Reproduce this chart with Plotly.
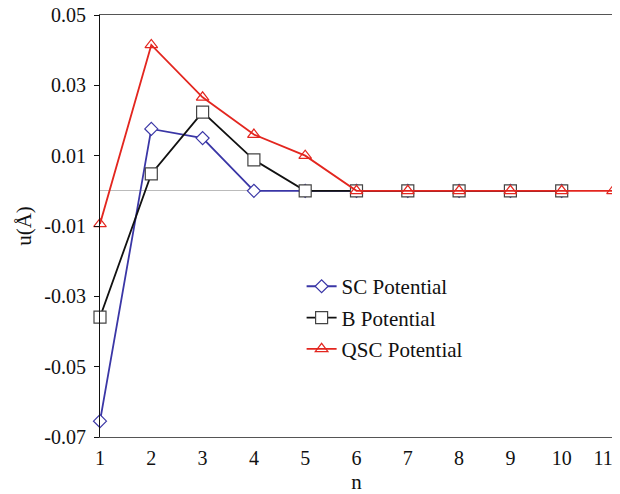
import plotly.graph_objects as go

n = [1, 2, 3, 4, 5, 6, 7, 8, 9, 10, 11]
n_labels = ["1", "2", "3", "4", "5", "6", "7", "8", "9", "10", "11\u2003"]
sc_n = n[:10]
sc_u = [-0.0655, 0.0176, 0.0150, 0.0, 0.0, 0.0, 0.0, 0.0, 0.0, 0.0]
b_n = n[:10]
b_u = [-0.0359, 0.0048, 0.0224, 0.0088, 0.0, 0.0, 0.0, 0.0, 0.0, 0.0]
qsc_n = n
qsc_u = [-0.0094, 0.0415, 0.0266, 0.0160, 0.0100, 0.0, 0.0, 0.0, 0.0, 0.0, 0.0]
y_ticks = [0.05, 0.03, 0.01, -0.01, -0.03, -0.05, -0.07]
y_labels = ["0.05", "0.03", "0.01", "-0.01", "-0.03", "-0.05", "-0.07"]

BLUE = "#3a36a6"
RED = "#e3261f"
BLACK = "#111111"
FONT = "Liberation Serif"

fig = go.Figure()
fig.add_trace(go.Scatter(x=sc_n, y=sc_u, name="SC Potential", mode="lines+markers",
                         line=dict(color=BLUE, width=1.8), legendgroup="a",
                         marker=dict(symbol="diamond", size=10, color="white",
                                     line=dict(color=BLUE, width=1.2)),
                         cliponaxis=False))
fig.add_trace(go.Scatter(x=b_n, y=b_u, name="B Potential", mode="lines+markers",
                         line=dict(color=BLACK, width=1.8), legendgroup="b",
                         marker=dict(symbol="square", size=12, color="white",
                                     line=dict(color="#444444", width=1.2)),
                         cliponaxis=False))
fig.add_trace(go.Scatter(x=qsc_n, y=qsc_u, name="QSC Potential", mode="lines+markers",
                         line=dict(color=RED, width=1.8), legendgroup="c",
                         marker=dict(symbol="triangle-up", size=11, color="rgba(255,255,255,0)",
                                     line=dict(color=RED, width=1.2)),
                         cliponaxis=False))

fig.update_layout(
    width=612, height=486,
    margin=dict(l=92, r=7, t=7, b=57),
    paper_bgcolor="white", plot_bgcolor="white",
    font=dict(family=FONT, size=20, color="#111111"),
    showlegend=True,
    legend=dict(x=0.393, y=0.405, xanchor="left", yanchor="top",
                font=dict(family=FONT, size=21), tracegroupgap=1,
                bgcolor="rgba(0,0,0,0)"),
    xaxis=dict(range=[1, 11], tickvals=n, ticktext=n_labels,
               showgrid=False, zeroline=False, showline=True, linecolor="#555555",
               linewidth=1, mirror=True, ticks="", ticklabelstandoff=3,
               automargin=False, ticklabeloverflow="allow",
               title=dict(text="n", font=dict(family=FONT, size=21), standoff=11)),
    xaxis2=dict(range=[1, 11], overlaying="x", anchor="free", position=0.07 / 0.12,
                side="bottom", tickvals=n, showticklabels=False, ticks="outside",
                ticklen=4, tickcolor="#bbbbbb", showline=False, showgrid=False,
                zeroline=False, automargin=False),
    yaxis=dict(range=[-0.07, 0.05], tickvals=y_ticks, ticktext=y_labels,
               showgrid=False, zeroline=True, zerolinecolor="#bbbbbb", zerolinewidth=1,
               showline=True, linecolor="#111111", linewidth=1.2,
               ticks="outside", ticklen=5, tickcolor="#111111",
               ticklabelstandoff=4, automargin=False, ticklabeloverflow="allow",
               title=dict(text="u(Å)", font=dict(family=FONT, size=21), standoff=6)),
)
fig.add_shape(type="line", xref="paper", yref="paper", x0=1, x1=1, y0=0, y1=1,
              line=dict(color="#555555", width=1))
fig.write_html("out.html")
